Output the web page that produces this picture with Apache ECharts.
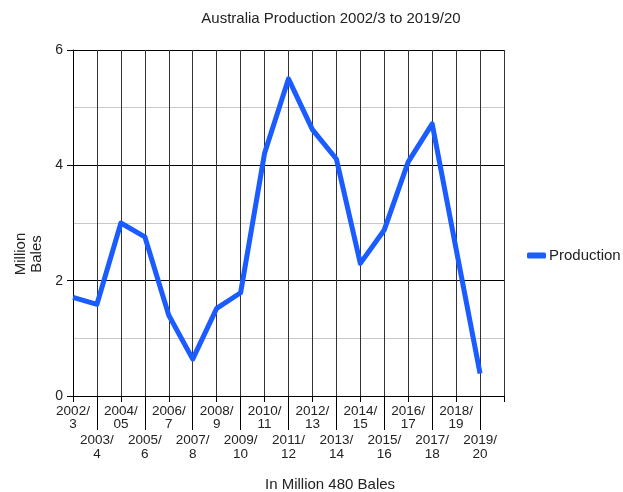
<!DOCTYPE html>
<html>
<head>
<meta charset="utf-8">
<script src="https://cdn.jsdelivr.net/npm/echarts@6/dist/echarts.min.js"></script>
<style>
  html, body { margin: 0; padding: 0; background: #fff; }
  #chart { width: 623px; height: 492px; }
</style>
</head>
<body>
<div id="chart"></div>
<script>
// Seasons on the x axis; the trailing blank slot closes the plot frame on the right.
const seasons = [
  '2002/\n3', '2003/\n4', '2004/\n05', '2005/\n6', '2006/\n7', '2007/\n8',
  '2008/\n9', '2009/\n10', '2010/\n11', '2011/\n12', '2012/\n13', '2013/\n14',
  '2014/\n15', '2015/\n16', '2016/\n17', '2017/\n18', '2018/\n19', '2019/\n20', ''
];

// Production in million 480 lb bales
const production = [
  1.71, 1.59, 3.0, 2.76, 1.4, 0.64, 1.52, 1.79, 4.21,
  5.5, 4.62, 4.11, 2.3, 2.88, 4.06, 4.72, 2.55, 0.39
];

const yTicks = [0, 2, 4, 6];

const chartTitle = 'Australia Production 2002/3 to 2019/20';
const xTitle = 'In Million 480 Bales';
const yTitle = 'Million\nBales';
const seriesName = 'Production';

const FONT = '"Liberation Sans", Arial, sans-serif';
const TEXT = '#222';
const LINE_BLUE = '#1a5cff';

const chart = echarts.init(document.getElementById('chart'), null, { renderer: 'canvas' });

const isEven = (i) => i % 2 === 0;
const isOdd = (i) => i % 2 === 1;

chart.setOption({
  animation: false,
  backgroundColor: '#fff',
  grid: { left: 73, right: 119, top: 50, bottom: 96, containLabel: false },
  legend: {
    data: [seriesName],
    left: 522,
    top: 243,
    icon: 'roundRect',
    itemWidth: 19,
    itemHeight: 6,
    itemGap: 10,
    textStyle: { fontFamily: FONT, fontSize: 15, color: TEXT, padding: [0, 0, 0, -2] }
  },
  graphic: [
    {
      type: 'text', x: 331, y: 19,
      style: {
        text: chartTitle, font: '15px ' + FONT, fill: TEXT,
        align: 'center', verticalAlign: 'middle'
      }
    },
    {
      type: 'text', x: 265, y: 485,
      style: {
        text: xTitle, font: '15px ' + FONT, fill: TEXT,
        align: 'left', verticalAlign: 'middle'
      }
    },
    {
      type: 'text', x: 29, y: 254, rotation: Math.PI / 2,
      style: {
        text: yTitle, font: '15px ' + FONT, fill: TEXT,
        align: 'center', verticalAlign: 'middle', lineHeight: 16
      }
    }
  ],
  xAxis: [
    {
      type: 'category',
      data: seasons,
      boundaryGap: false,
      position: 'bottom',
      axisLine: { show: true, lineStyle: { color: '#000', width: 1 } },
      axisTick: { show: true, interval: (i) => isEven(i), length: 6, lineStyle: { color: '#000' } },
      axisLabel: {
        interval: (i) => isEven(i), margin: 9,
        fontFamily: FONT, fontSize: 13.5, color: TEXT, lineHeight: 13
      },
      splitLine: { show: true, interval: 0, lineStyle: { color: '#333', width: 1 } }
    },
    {
      type: 'category',
      data: seasons,
      boundaryGap: false,
      position: 'bottom',
      axisLine: { show: false },
      axisTick: { show: true, interval: (i) => isOdd(i), length: 34, lineStyle: { color: '#000' } },
      axisLabel: {
        interval: (i) => isOdd(i), margin: 37,
        fontFamily: FONT, fontSize: 13.5, color: TEXT, lineHeight: 14
      },
      splitLine: { show: false }
    }
  ],
  yAxis: {
    type: 'value',
    min: 0,
    max: 6,
    interval: 2,
    axisLine: { show: true, lineStyle: { color: '#000', width: 1 } },
    axisTick: { show: true, length: 6, lineStyle: { color: '#000' } },
    axisLabel: {
      margin: 10, fontFamily: FONT, fontSize: 14, color: TEXT,
      customValues: yTicks
    },
    splitLine: { show: true, lineStyle: { color: '#000', width: 1 } },
    minorTick: { show: false, splitNumber: 2 },
    minorSplitLine: { show: true, lineStyle: { color: '#c8c8c8', width: 1 } }
  },
  series: [
    {
      name: seriesName,
      type: 'line',
      xAxisIndex: 0,
      data: production,
      showSymbol: false,
      symbol: 'none',
      lineStyle: { color: LINE_BLUE, width: 5, join: 'round' },
      itemStyle: { color: LINE_BLUE }
    }
  ]
});
</script>
</body>
</html>
